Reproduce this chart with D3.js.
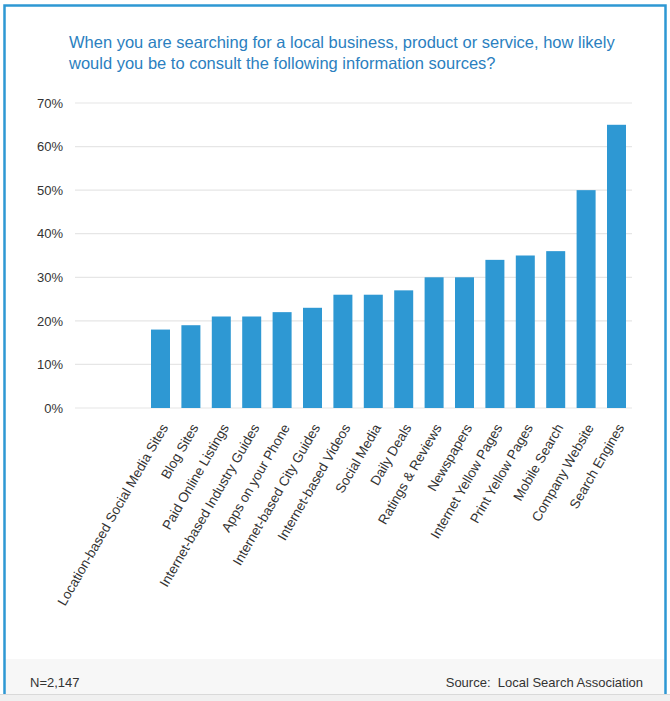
<!DOCTYPE html>
<html>
<head>
<meta charset="utf-8">
<script src="https://cdn.jsdelivr.net/npm/d3@7"></script>
<style>
  body { margin: 0; background: #fff; }
  svg { display: block; font-family: "Liberation Sans", Arial, sans-serif; }
</style>
</head>
<body>
<div id="chart"></div>
<script>
// chart data
const categories = [
  "Location-based Social Media Sites", "Blog Sites", "Paid Online Listings",
  "Internet-based Industry Guides", "Apps on your Phone", "Internet-based City Guides",
  "Internet-based Videos", "Social Media", "Daily Deals", "Ratings & Reviews",
  "Newspapers", "Internet Yellow Pages", "Print Yellow Pages", "Mobile Search",
  "Company Website", "Search Engines"
];
const values = [18, 19, 21, 21, 22, 23, 26, 26, 27, 30, 30, 34, 35, 36, 50, 65];
const yTicks = [0, 10, 20, 30, 40, 50, 60, 70];
const titleLines = [
  "When you are searching for a local business, product or service, how likely",
  "would you be to consult the following information sources?"
];
const sampleNote = "N=2,147";
const sourceNote = "Source:  Local Search Association";

const W = 670, H = 701;
const blue = "#2e98d3";

const svg = d3.select("#chart").append("svg")
  .attr("width", W)
  .attr("height", H);

svg.append("rect").attr("width", W).attr("height", H).attr("fill", "#fff");

// bottom strip below the card
svg.append("rect").attr("x", 0).attr("y", 694).attr("width", W).attr("height", H - 694).attr("fill", "#f0f0f0");
svg.append("line").attr("x1", 0).attr("x2", W).attr("y1", 694.5).attr("y2", 694.5).attr("stroke", "#d9d9d9");

// footer band
svg.append("rect").attr("x", 5).attr("y", 659).attr("width", 660).attr("height", 35).attr("fill", "#f7f7f7");
svg.append("text").attr("x", 30).attr("y", 687)
  .attr("font-size", 13).attr("fill", "#333").text(sampleNote);
svg.append("text").attr("x", 643).attr("y", 687).attr("text-anchor", "end")
  .attr("font-size", 13).attr("fill", "#333")
  .style("white-space", "pre")
  .text(sourceNote);

// card border
svg.append("path")
  .attr("d", "M4.5,694 V5.5 H665.5 V694")
  .attr("fill", "none")
  .attr("stroke", blue)
  .attr("stroke-width", 2.5);

// title
svg.append("g").selectAll("text")
  .data(titleLines)
  .join("text")
  .attr("x", 69)
  .attr("y", (d, i) => 48 + i * 21)
  .attr("font-size", 16.5)
  .attr("fill", "#2b7fc0")
  .text(d => d);

// scales
const y = d3.scaleLinear().domain([0, 70]).range([408, 103]);
const x = d3.scaleBand()
  .domain(categories)
  .range([145.3, 631.7])
  .paddingInner(0.375)
  .paddingOuter(0.1875);

// gridlines
svg.append("g").selectAll("line")
  .data(yTicks)
  .join("line")
  .attr("x1", 75).attr("x2", 632)
  .attr("y1", d => y(d)).attr("y2", d => y(d))
  .attr("stroke", "#e6e6e6")
  .attr("stroke-width", 1.2);

// y axis labels
const yAxis = svg.append("g")
  .attr("transform", "translate(63,0)")
  .call(d3.axisLeft(y).tickValues(yTicks).tickFormat(d => d + "%").tickSize(0).tickPadding(0));
yAxis.select(".domain").remove();
yAxis.selectAll("text")
  .attr("font-size", 13)
  .attr("font-family", "Liberation Sans, Arial, sans-serif")
  .attr("fill", "#333");

// bars
svg.append("g").selectAll("rect")
  .data(values)
  .join("rect")
  .attr("x", (d, i) => x(categories[i]))
  .attr("y", d => y(d))
  .attr("width", x.bandwidth())
  .attr("height", d => y(0) - y(d))
  .attr("fill", blue);

// x labels
svg.append("g").selectAll("text")
  .data(categories)
  .join("text")
  .attr("transform", d => `translate(${x(d) + x.bandwidth() / 2 + 4},${425}) rotate(-60)`)
  .attr("text-anchor", "end")
  .attr("dy", "0.35em")
  .attr("font-size", 13.5)
  .attr("fill", "#333")
  .text(d => d);
</script>
</body>
</html>
